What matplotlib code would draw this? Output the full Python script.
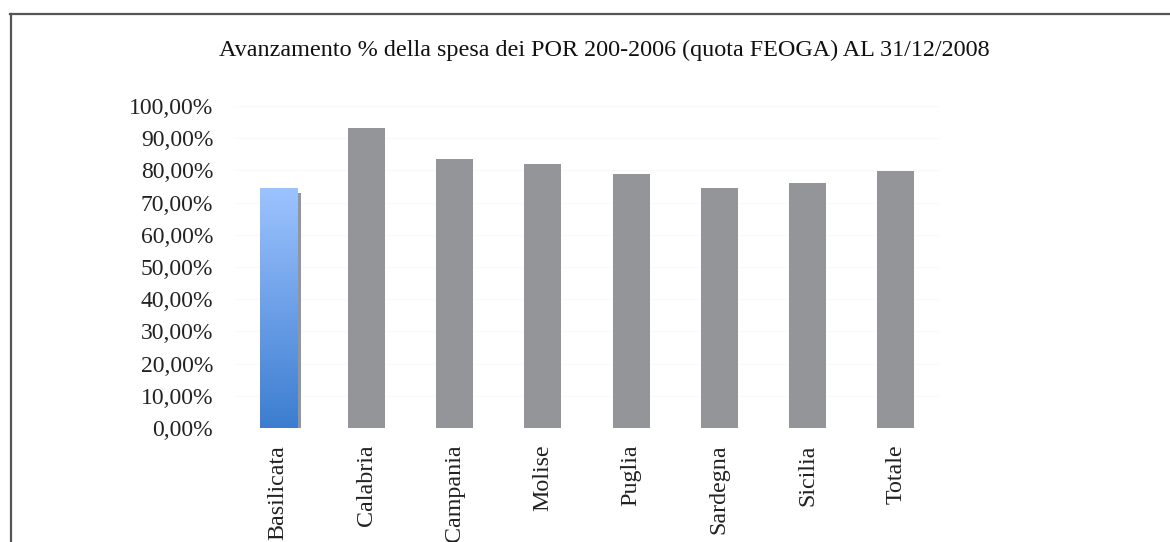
import matplotlib
matplotlib.use("Agg")
import matplotlib.pyplot as plt
from matplotlib.lines import Line2D
import numpy as np

plt.rcParams['font.family'] = ['Liberation Serif', 'DejaVu Serif']

regioni = ["Basilicata", "Calabria", "Campania", "Molise", "Puglia", "Sardegna", "Sicilia", "Totale"]
avanzamento = [74.5, 93.2, 83.5, 82.0, 78.9, 74.5, 76.1, 79.8]
yticks = [0, 10, 20, 30, 40, 50, 60, 70, 80, 90, 100]
ylabels = ["%d,00%%" % v for v in yticks]
titolo = "Avanzamento % della spesa dei POR 200-2006 (quota FEOGA) AL 31/12/2008"

grigio = "#949599"

fig = plt.figure(figsize=(11.7, 5.42), dpi=100)
ax = fig.add_axes([0.2, 0.2103, 0.6034, 0.5941])

x = np.arange(len(regioni))
w = 0.42

# gradient bar for Basilicata with its shadow, others plain grey
ax.bar(x[0] + 0.05, avanzamento[0] - 1.25, bottom=-0.3, width=w, color=grigio, zorder=2)
bars = ax.bar(x, avanzamento, width=w, color=grigio, zorder=3)
bars[0].set_facecolor("none")
b = bars[0]
grad = np.linspace(0, 1, 256).reshape(-1, 1)
cmap = matplotlib.colors.LinearSegmentedColormap.from_list("blu", ["#3c7dd0", "#9dc3ff"])
im = ax.imshow(grad, cmap=cmap, origin="lower", aspect="auto", zorder=4,
               extent=[b.get_x(), b.get_x() + b.get_width(), 0, b.get_height()])
im.set_clip_path(b)

ax.set_xlim(-0.5, len(regioni) - 0.5)
ax.set_ylim(0, 100)
ax.set_yticks(yticks)
ax.set_yticklabels(ylabels, fontsize=17, color="#222222")
ax.set_xticks(x)
ax.set_xticklabels(regioni, rotation=90, fontsize=17.3, color="#222222", va="top")
ax.tick_params(axis="y", length=0, pad=15)
ax.tick_params(axis="x", length=0, pad=12)
for s in ax.spines.values():
    s.set_visible(False)
ax.grid(axis="y", color="#fafafa", linewidth=0.8, zorder=0)
ax.set_axisbelow(True)

fig.text(604 / 1170, 1 - 50 / 542, titolo, ha="center", va="center", fontsize=17.4, color="#111111")

# frame of the chart area (cropped at right and bottom)
fig.add_artist(Line2D([10 / 1170, 1], [1 - 14 / 542, 1 - 14 / 542], color="#555555", lw=1.6))
fig.add_artist(Line2D([11 / 1170, 11 / 1170], [0, 1 - 14 / 542], color="#555555", lw=1.6))

fig.savefig("out.png", dpi=100)
